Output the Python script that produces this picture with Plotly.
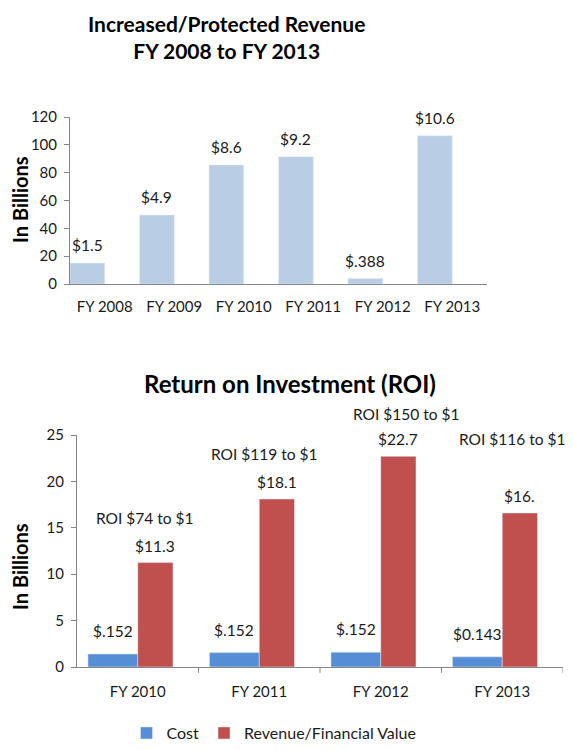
import plotly.graph_objects as go

# ---- data ----
TOP_CATEGORIES = ["FY 2008", "FY 2009", "FY 2010", "FY 2011", "FY 2012", "FY 2013"]
TOP_VALUES = [15, 49.5, 85.5, 91.5, 3.88, 106.5]
TOP_LABELS = ["$1.5", "$4.9", "$8.6", "$9.2", "$.388", "$10.6"]
TOP_TICKS = [0, 20, 40, 60, 80, 100, 120]

ROI_CATEGORIES = ["FY 2010", "FY 2011", "FY 2012", "FY 2013"]
COST_VALUES = [1.4, 1.55, 1.6, 1.1]
COST_LABELS = ["$.152", "$.152", "$.152", "$0.143"]
REVENUE_VALUES = [11.25, 18.1, 22.7, 16.6]
REVENUE_LABELS = ["$11.3", "$18.1", "$22.7", "$16."]
ROI_LABELS = ["ROI $74 to $1", "ROI $119 to $1", "ROI $150 to $1", "ROI $116 to $1"]
BOTTOM_TICKS = [0, 5, 10, 15, 20, 25]

# ---- styles ----
FONT = "Lato, 'Open Sans', sans-serif"
TXT = "#1a1a1a"
AXIS = "#868686"
TOP_COLOR = "#B9CDE5"
COST_COLOR = "#558ED5"
REV_COLOR = "#C0504D"
LBL = 15.5
ROI_SHIFTS = [(-10, 45), (-12, 45), (8, 42), (-7, 74)]  # (xshift px, yshift px above revenue bar top)

# page has an 8px body margin; keep the figure inside the 574x750 window
OFF = 8
W, H = 574 - 2 * OFF, 750 - 2 * OFF


def fx(px):
    return (px - OFF) / W


def fy(py):
    return 1 - (py - OFF) / H


fig = go.Figure()

top_x = list(range(len(TOP_CATEGORIES)))
fig.add_trace(go.Bar(x=top_x, y=TOP_VALUES, offset=-0.5, width=0.5,
                     marker_color=TOP_COLOR, showlegend=False,
                     xaxis="x", yaxis="y", hoverinfo="skip"))

bx = list(range(len(ROI_CATEGORIES)))
fig.add_trace(go.Bar(x=bx, y=COST_VALUES, offset=-0.41, width=0.41,
                     marker_color=COST_COLOR, name="Cost",
                     xaxis="x2", yaxis="y2"))
fig.add_trace(go.Bar(x=bx, y=REVENUE_VALUES, offset=0.0, width=0.29,
                     marker_color=REV_COLOR, name="Revenue/Financial Value",
                     xaxis="x2", yaxis="y2"))

ann = []


def lab(**kw):
    d = dict(showarrow=False, xanchor="center", font=dict(size=LBL, color=TXT, family=FONT))
    d.update(kw)
    ann.append(d)


for i, (v, t) in enumerate(zip(TOP_VALUES, TOP_LABELS)):
    lab(x=i - 0.25, y=v, xref="x", yref="y", text=t, yanchor="bottom", yshift=7)
for i, (v, t) in enumerate(zip(COST_VALUES, COST_LABELS)):
    lab(x=i - 0.205, y=v, xref="x2", yref="y2", text=t, yanchor="bottom", yshift=12)
for i, (v, t) in enumerate(zip(REVENUE_VALUES, REVENUE_LABELS)):
    lab(x=i + 0.145, y=v, xref="x2", yref="y2", text=t, yanchor="bottom", yshift=6)
for i, (v, t) in enumerate(zip(REVENUE_VALUES, ROI_LABELS)):
    xs, ys = ROI_SHIFTS[i]
    lab(x=i + 0.145, y=v, xref="x2", yref="y2", text=t, yanchor="middle", xshift=xs, yshift=ys)

# titles
ann.append(dict(x=fx(226), y=fy(9), xref="paper", yref="paper",
                xanchor="center", yanchor="top",
                text="<b>Increased/Protected Revenue<br>FY 2008 to FY 2013</b>",
                showarrow=False, font=dict(size=21, color="#000", family=FONT),
                align="center"))
ann.append(dict(x=fx(290), y=fy(383), xref="paper", yref="paper",
                xanchor="center", yanchor="middle",
                text="<b>Return on Investment (ROI)</b>",
                showarrow=False, font=dict(size=24, color="#000", family=FONT)))
# y axis titles
for yc in (200, 567):
    ann.append(dict(x=fx(20), y=fy(yc), xref="paper", yref="paper",
                    xanchor="center", yanchor="middle",
                    text="<b>In Billions</b>", textangle=-90, showarrow=False,
                    font=dict(size=20, color="#000", family=FONT)))

axis_common = dict(showgrid=False, zeroline=False, showline=True, linecolor=AXIS,
                   linewidth=1, automargin=False,
                   tickfont=dict(size=15, color=TXT, family=FONT))

fig.update_layout(
    width=W, height=H, autosize=False,
    margin=dict(l=0, r=0, t=0, b=0, pad=0, autoexpand=False),
    plot_bgcolor="white", paper_bgcolor="white",
    font=dict(family=FONT, color=TXT),
    barmode="overlay",
    xaxis=dict(domain=[fx(70), fx(487)], anchor="y", tickmode="array", tickvals=top_x,
               ticktext=TOP_CATEGORIES, range=[-0.5, 5.5], ticks="",
               ticklabelstandoff=9, **axis_common),
    yaxis=dict(domain=[fy(284), fy(117)], anchor="x", range=[0, 120],
               tickvals=TOP_TICKS, ticks="outside", ticklen=5, tickcolor=AXIS,
               ticklabelstandoff=4, **axis_common),
    xaxis2=dict(domain=[fx(77), fx(563)], anchor="y2", tickmode="array", tickvals=bx,
                ticktext=ROI_CATEGORIES, range=[-0.5, 3.5], ticks="",
                ticklabelstandoff=11, **axis_common),
    yaxis2=dict(domain=[fy(667), fy(435)], anchor="x2", range=[0, 25],
                tickvals=BOTTOM_TICKS, ticks="outside", ticklen=5, tickcolor=AXIS,
                ticklabelstandoff=4, **axis_common),
    legend=dict(orientation="h", x=fx(274), xanchor="center", y=-0.011,
                yanchor="bottom", font=dict(size=16, color=TXT, family=FONT),
                itemwidth=30, traceorder="normal"),
    annotations=ann,
)

# category boundary ticks on the bottom chart
shapes = []
for b in [0.5, 1.5, 2.5, 3.5]:
    shapes.append(dict(type="line", xref="x2", yref="y2 domain", x0=b, x1=b,
                       y0=0, y1=-0.025, line=dict(color=AXIS, width=1)))
fig.update_layout(shapes=shapes)

fig.write_html("out.html")
